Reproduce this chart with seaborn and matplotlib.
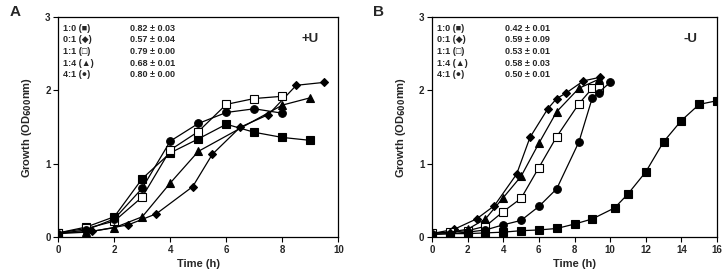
import matplotlib
matplotlib.use("Agg")
import matplotlib.pyplot as plt
import seaborn as sns
import pandas as pd

sns.set_theme(style="white")
plt.rcParams['font.family'] = ['Liberation Sans', 'DejaVu Sans']
plt.rcParams['font.weight'] = 'bold'
plt.rcParams['mathtext.default'] = 'bf'

# ---------------- data: panel A (+U) ----------------
a_sq_t = [0, 1, 2, 3, 4, 5, 6, 7, 8, 9]
a_sq_v = [0.06, 0.14, 0.28, 0.80, 1.15, 1.34, 1.54, 1.43, 1.36, 1.32]
a_di_t = [0, 1.2, 2.5, 3.5, 4.8, 5.5, 6.5, 7.5, 8.5, 9.5]
a_di_v = [0.06, 0.08, 0.17, 0.32, 0.69, 1.13, 1.50, 1.67, 2.07, 2.11]
a_os_t = [0, 1, 2, 3, 4, 5, 6, 7, 8]
a_os_v = [0.06, 0.12, 0.22, 0.55, 1.19, 1.44, 1.81, 1.89, 1.92]
a_tr_t = [0, 1, 2, 3, 4, 5, 8, 9]
a_tr_v = [0.05, 0.07, 0.13, 0.28, 0.74, 1.17, 1.80, 1.90]
a_ci_t = [0, 1, 2, 3, 4, 5, 6, 7, 8]
a_ci_v = [0.05, 0.10, 0.25, 0.67, 1.31, 1.55, 1.70, 1.75, 1.69]

# ---------------- data: panel B (-U) ----------------
b_sq_t = [0, 1, 2, 3, 4, 5, 6, 7, 8, 9, 10.25, 11, 12, 13, 14, 15, 16]
b_sq_v = [0.04, 0.05, 0.05, 0.06, 0.07, 0.09, 0.10, 0.12, 0.18, 0.25, 0.40,
          0.59, 0.89, 1.30, 1.59, 1.81, 1.86]
b_di_t = [0, 1.25, 2.5, 3.5, 4.75, 5.5, 6.5, 7, 7.5, 8.5, 9.45]
b_di_v = [0.05, 0.11, 0.25, 0.43, 0.86, 1.36, 1.75, 1.89, 1.96, 2.13, 2.18]
b_os_t = [0, 1, 2, 3, 4, 5, 6, 7, 8.25, 9, 9.35]
b_os_v = [0.06, 0.07, 0.09, 0.15, 0.35, 0.53, 0.95, 1.37, 1.82, 2.03, 2.03]
b_tr_t = [0, 1, 2, 3, 4, 5, 6, 7, 8.25, 9.35]
b_tr_v = [0.05, 0.07, 0.11, 0.25, 0.54, 0.83, 1.28, 1.71, 2.03, 2.15]
b_ci_t = [0, 1, 2, 3, 4, 5, 6, 7, 8.25, 9, 9.35, 10]
b_ci_v = [0.04, 0.05, 0.07, 0.10, 0.17, 0.23, 0.42, 0.66, 1.30, 1.90, 1.97, 2.11]

labels = ["1:0 (■)", "0:1 (◆)", "1:1 (□)", "1:4 (▲)", "4:1 (●)"]
a_stats = ["0.82 ± 0.03", "0.57 ± 0.04", "0.79 ± 0.00", "0.68 ± 0.01", "0.80 ± 0.00"]
b_stats = ["0.42 ± 0.01", "0.59 ± 0.09", "0.53 ± 0.01", "0.58 ± 0.03", "0.50 ± 0.01"]

styles = [("s", "black", 5.2), ("D", "black", 4.2), ("s", "white", 5.2),
          ("^", "black", 5.5), ("o", "black", 5.5)]

fig = plt.figure(figsize=(7.26, 2.77), dpi=100)
axA = fig.add_axes([58.3 / 726, 39.7 / 277, 280 / 726, 220.3 / 277])
axB = fig.add_axes([432 / 726, 39.7 / 277, 285 / 726, 220.3 / 277])

def draw(ax, series, xmax, stats, tag, xlab_x, stat_x):
    for (t, v), (m, fc, ms) in zip(series, styles):
        df = pd.DataFrame({"t": t, "v": v})
        sns.lineplot(data=df, x="t", y="v", ax=ax, color="black", lw=0.9,
                     marker=m, markersize=ms, markerfacecolor=fc,
                     markeredgecolor="black", markeredgewidth=0.8,
                     estimator=None, sort=False)
    ax.set_xlim(0, xmax)
    ax.set_ylim(0, 3)
    ax.set_xticks(range(0, xmax + 1, 2))
    ax.set_yticks([0, 1, 2, 3])
    for s in ax.spines.values():
        s.set_color("black")
        s.set_linewidth(0.9)
    ax.tick_params(axis="both", which="major", direction="out", length=3.5,
                   width=0.8, color="black", labelsize=7, pad=2,
                   bottom=True, left=True)
    for lab in ax.get_xticklabels() + ax.get_yticklabels():
        lab.set_fontweight("bold")
    ax.set_xlabel("Time (h)", fontsize=8, fontweight="bold", labelpad=3)
    ax.set_ylabel(r"Growth (OD$_{600}$nm)", fontsize=8, fontweight="bold", labelpad=8)
    for i, (lab, st) in enumerate(zip(labels, stats)):
        y = 0.95 - i * 0.053
        ax.text(0.018, y, lab, transform=ax.transAxes, fontsize=6.5,
                fontweight="bold", va="center", ha="left")
        ax.text(stat_x, y, st, transform=ax.transAxes, fontsize=6.5,
                fontweight="bold", va="center", ha="left")
    ax.text(0.93, 0.9, tag, transform=ax.transAxes, fontsize=9.5,
            fontweight="bold", va="center", ha="right")

draw(axA, [(a_sq_t, a_sq_v), (a_di_t, a_di_v), (a_os_t, a_os_v),
           (a_tr_t, a_tr_v), (a_ci_t, a_ci_v)], 10, a_stats, "+U", 0, 0.255)
draw(axB, [(b_sq_t, b_sq_v), (b_di_t, b_di_v), (b_os_t, b_os_v),
           (b_tr_t, b_tr_v), (b_ci_t, b_ci_v)], 16, b_stats, "-U", 0, 0.255)

fig.text(10 / 726, 1 - 12 / 277, "A", fontsize=11, fontweight="bold", va="center")
fig.text(373 / 726, 1 - 12 / 277, "B", fontsize=11, fontweight="bold", va="center")

fig.savefig("out.png", dpi=100)
